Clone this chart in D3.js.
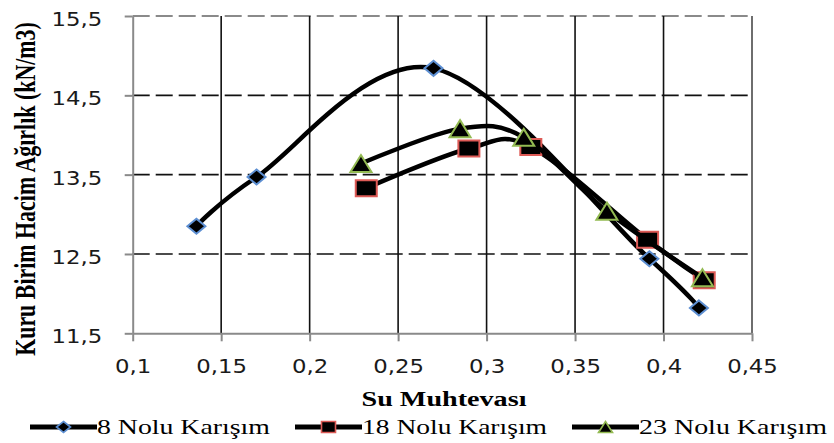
<!DOCTYPE html>
<html><head><meta charset="utf-8">
<script src="https://cdn.jsdelivr.net/npm/d3@7"></script>
<style>html,body{margin:0;padding:0;background:#fff}svg{display:block}
.serif{font-family:"Liberation Serif","Times New Roman",Tinos,"DejaVu Serif",serif}
.sans{font-family:"DejaVu Sans",Verdana,sans-serif}
</style>
</head><body>
<script>
// ---- data ----
const seriesNames = ["8 Nolu Karışım", "18 Nolu Karışım", "23 Nolu Karışım"];
const x8  = [0.136, 0.170, 0.270, 0.392, 0.420];
const y8  = [12.85, 13.47, 14.84, 12.44, 11.82];
const x18 = [0.232, 0.290, 0.325, 0.391, 0.423];
const y18 = [13.33, 13.83, 13.85, 12.68, 12.17];
const x23 = [0.229, 0.285, 0.321, 0.368, 0.422];
const y23 = [13.64, 14.08, 13.97, 13.04, 12.20];
const xTicks = [0.1, 0.15, 0.2, 0.25, 0.3, 0.35, 0.4, 0.45];
const yTicks = [11.5, 12.5, 13.5, 14.5, 15.5];
const xTitle = "Su Muhtevası";
const yTitle = "Kuru Birim Hacim Ağırlık (kN/m3)";

// ---- layout ----
const W = 834, H = 443;
const L = 132.7, R = 752, T = 16, B = 333.3;
const KT = 1.2;   // horizontal stretch for tick labels
const fmt = d => String(d).replace(".", ",");

const svg = d3.select("body").append("svg").attr("width", W).attr("height", H);
const x = d3.scaleLinear().domain([0.1, 0.45]).range([L, R]);
const y = d3.scaleLinear().domain([11.5, 15.5]).range([B, T]);

// stretch a text node so that its rendered length equals target
function fitWidth(sel, target) {
  const n = sel.node().getComputedTextLength();
  return n > 0 ? target / n : 1.3;
}

// gridlines
const grid = svg.append("g");
grid.selectAll("line.h").data(yTicks.filter(v => v > 11.5)).join("line")
  .attr("x1", L).attr("x2", R).attr("y1", d => y(d)).attr("y2", d => y(d))
  .attr("stroke", d => d === 15.5 ? "#8a8a8a" : "#111").attr("stroke-width", d => d === 15.5 ? 2 : 1.6)
  .attr("stroke-dasharray", "17,6");
grid.selectAll("line.v").data(xTicks.filter(v => v > 0.1)).join("line")
  .attr("x1", d => x(d)).attr("x2", d => x(d)).attr("y1", T).attr("y2", B)
  .attr("stroke", d => d === 0.45 ? "#6e6e6e" : "#111").attr("stroke-width", d => d === 0.45 ? 2 : 1.6);

// axes
const axY = svg.append("g").attr("transform", `translate(${L},0)`)
  .call(d3.axisLeft(y).tickValues(yTicks).tickSize(8).tickSizeOuter(0).tickFormat(fmt));
const axX = svg.append("g").attr("transform", `translate(0,${B})`)
  .call(d3.axisBottom(x).tickValues(xTicks).tickSize(8).tickSizeOuter(0).tickFormat(fmt));
[axX, axY].forEach(a => {
  a.attr("font-family", null).attr("font-size", null);
  a.select(".domain").attr("stroke", "#8a8a8a").attr("stroke-width", 2);
  a.selectAll(".tick line").attr("stroke", "#8a8a8a").attr("stroke-width", 2);
  a.selectAll(".tick text").attr("class", "sans").style("font-size", "19px").attr("fill", "#1a1a1a");
});
axY.selectAll(".tick text").attr("x", -30.5 / KT).attr("y", 9.5).attr("dy", 0)
  .attr("transform", `scale(${KT},1)`);
axX.selectAll(".tick text").attr("y", 39.7).attr("dy", 0)
  .attr("transform", `scale(${KT},1)`);

// titles
const xt = svg.append("text").attr("class", "serif")
  .attr("text-anchor", "middle").style("font-weight", "bold").style("font-size", "21.5px")
  .attr("fill", "#000").text(xTitle);
xt.attr("transform", `translate(444,406) scale(${fitWidth(xt, 165)},1)`);
const yt = svg.append("text").attr("class", "serif")
  .attr("text-anchor", "middle").style("font-weight", "bold").style("font-size", "22px")
  .attr("fill", "#000").text(yTitle);
yt.attr("transform", `translate(35,189) rotate(-90) scale(${fitWidth(yt, 334)},1.3)`);

// markers
function markerPath(type, w, h) {
  if (type === "diamond") return `M0,${-h/2}L${w/2},0L0,${h/2}L${-w/2},0Z`;
  if (type === "square") return `M${-w/2},${-h/2}H${w/2}V${h/2}H${-w/2}Z`;
  return `M0,${-h/2}L${w/2},${h/2}L${-w/2},${h/2}Z`;
}
const series = [
  { name: seriesNames[0], xs: x8,  ys: y8,  type: "diamond",  stroke: "#5d8fd2", w: 18, h: 15, tw: 173 },
  { name: seriesNames[1], xs: x18, ys: y18, type: "square",   stroke: "#dd5a56", w: 21, h: 16, tw: 185 },
  { name: seriesNames[2], xs: x23, ys: y23, type: "triangle", stroke: "#93ba52", w: 21, h: 17, tw: 188 }
];
const line = d3.line().x(d => x(d[0])).y(d => y(d[1])).curve(d3.curveCardinal.tension(0));

series.forEach(s => {
  const pts = s.xs.map((v, i) => [v, s.ys[i]]);
  const g = svg.append("g");
  g.append("path").attr("d", line(pts)).attr("fill", "none").attr("stroke", "#000")
    .attr("stroke-width", 4.5).attr("stroke-linejoin", "round").attr("stroke-linecap", "round");
  g.selectAll("path.m").data(pts).join("path").attr("class", "m")
    .attr("transform", d => `translate(${x(d[0])},${y(d[1])})`)
    .attr("d", markerPath(s.type, s.w, s.h))
    .attr("fill", "#000").attr("stroke", s.stroke).attr("stroke-width", 2);
});

// legend
const lg = svg.append("g");
let cx = 30;
const lineLen = 67, gap = 25, ly = 427;
series.forEach(s => {
  const e = lg.append("g");
  e.append("line").attr("x1", cx).attr("x2", cx + lineLen).attr("y1", ly).attr("y2", ly)
    .attr("stroke", "#000").attr("stroke-width", 5);
  e.append("path").attr("transform", `translate(${cx + lineLen / 2},${ly})`)
    .attr("d", markerPath(s.type, 14, 11)).attr("fill", "#000").attr("stroke", s.stroke).attr("stroke-width", 1.6);
  const t = e.append("text").attr("class", "serif")
    .style("font-size", "21px").attr("fill", "#000").text(s.name);
  const k = fitWidth(t, s.tw);
  t.attr("transform", `translate(${cx + lineLen},434) scale(${k},1)`);
  cx += lineLen + s.tw + gap;
});
</script>
</body></html>
